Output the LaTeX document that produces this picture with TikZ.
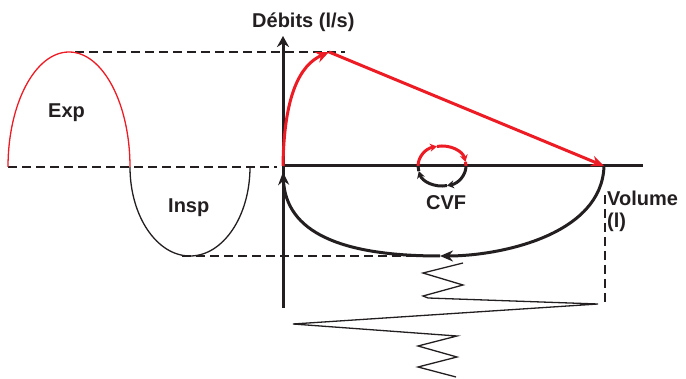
\documentclass[tikz,border=0pt]{standalone}
\usepackage{fontspec}
\setmainfont{Liberation Sans}
\usepackage{tikz}
\usetikzlibrary{arrows.meta, calc}
\definecolor{myred}{RGB}{237,28,36}
\definecolor{mydark}{RGB}{35,31,32}
\tikzset{
  axis/.style={line width=3pt, color=mydark},
  redpath/.style={line width=3pt, color=myred, -{Stealth[length=13pt, width=11pt]}},
  blkpath/.style={line width=3pt, color=mydark, -{Stealth[length=13pt, width=11pt]}},
  smallred/.style={line width=3pt, color=myred, -{Stealth[length=7pt, width=8pt]}},
  smallblk/.style={line width=3pt, color=mydark, -{Stealth[length=7pt, width=8pt]}},
  dashline/.style={line width=1.5pt, color=mydark, dash pattern=on 9pt off 5pt},
  wave/.style={line width=1.3pt},
  lbl/.style={inner sep=0pt, font=\fontsize{20}{22}\selectfont\bfseries, text=mydark}
}

\begin{document}
\begin{tikzpicture}[x=1pt, y=1pt]
  \useasboundingbox (0,0) rectangle (686,-379);
  % key points
  \coordinate (O) at (283,-166);
  \coordinate (peak) at (329,-52);
  \coordinate (vend) at (604,-166);
  \coordinate (bot) at (440,-256);
  \coordinate (cvf) at (442,-166);

  % dashed guides
  \draw[dashline] (75,-52) -- (345,-52);
  \draw[dashline] (8,-167) -- (277,-167);
  \draw[dashline] (182,-256) -- (420,-256);
  \draw[dashline] (605,-195) -- (605,-302);

  % Exp / Insp half waves
  \draw[wave, myred] (8,-167) arc[start angle=180, end angle=0, x radius=61, y radius=115];
  \draw[wave, mydark] (130,-167) arc[start angle=180, end angle=360, x radius=60, y radius=89];

  % Axes
  \draw[axis] (O) -- (643,-166);
  \draw[axis, -{Stealth[length=11pt, width=12pt]}] (283,-308) -- (283,-36);

  % Flow-volume loop
  \draw[redpath] (O) .. controls (284,-95) and (300,-65) .. (peak);
  \draw[redpath] (peak) -- (vend);
  \draw[blkpath] (vend) .. controls (602,-235) and (500,-256) .. (bot);
  \draw[blkpath] (bot) .. controls (340,-256) and (286,-232) .. (283,-172);

  % CVF loop
  \draw[smallred] ($(cvf)+(180:24 and 20)$) arc[start angle=180, end angle=102, x radius=24, y radius=20];
  \draw[smallred] ($(cvf)+(102:24 and 20)$) arc[start angle=102, end angle=12, x radius=24, y radius=20];
  \draw[line width=3pt, myred] ($(cvf)+(12:24 and 20)$) arc[start angle=12, end angle=0, x radius=24, y radius=20];
  \draw[smallblk] ($(cvf)+(0:24 and 20)$) arc[start angle=0, end angle=-78, x radius=24, y radius=20];
  \draw[smallblk] ($(cvf)+(-78:24 and 20)$) arc[start angle=-78, end angle=-165, x radius=24, y radius=20];
  \draw[line width=3pt, mydark] ($(cvf)+(-165:24 and 20)$) arc[start angle=-165, end angle=-180, x radius=24, y radius=20];

  % Zigzag trace
  \draw[wave, mydark] (463,-263) -- (423,-273) -- (463,-285) -- (423,-296) -- (428,-298)
    -- (598,-304) -- (293,-324) -- (457,-336) -- (418,-346) -- (457,-357)
    -- (418,-367) -- (456,-377);

  % Labels
  \node[lbl, anchor=base west] (debit) at (252,-28) {Débits (l/s)};
  \node[lbl, anchor=base west] (exp) at (48,-118) {Exp};
  \node[lbl, anchor=base west] (insp) at (168,-213) {Insp};
  \node[lbl, anchor=base west] (cvflbl) at (426,-210) {CVF};
  \node[lbl, anchor=north west, align=left] (vol) at (607,-190.5) {Volume\\(l)};
\end{tikzpicture}
\end{document}
